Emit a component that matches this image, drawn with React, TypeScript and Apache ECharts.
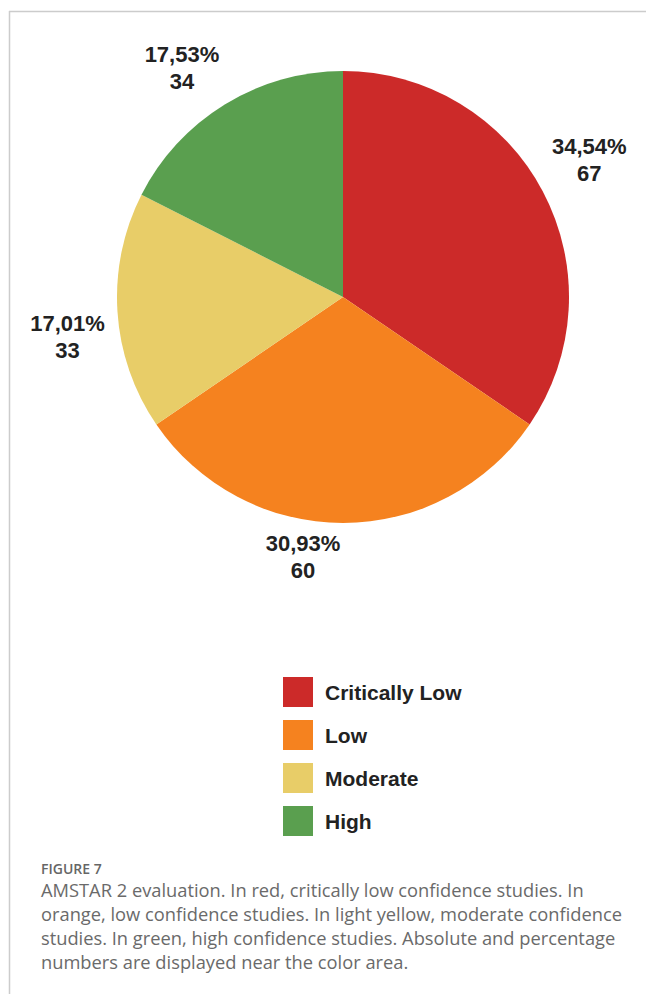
import React, { useEffect, useRef } from "react";
import * as echarts from "echarts";

const categories = ["Critically Low", "Low", "Moderate", "High"];
const counts = [67, 60, 33, 34];
const sliceColors = ["#CC2A29", "#F5821F", "#E8CD68", "#5A9F4F"];
const figureLabel = "FIGURE 7";
const captionLines = [
  "AMSTAR 2 evaluation. In red, critically low confidence studies. In",
  "orange, low confidence studies. In light yellow, moderate confidence",
  "studies. In green, high confidence studies. Absolute and percentage",
  "numbers are displayed near the color area.",
];

const total = counts.reduce((a, b) => a + b, 0);
const fmtPct = (v: number) => ((v / total) * 100).toFixed(2).replace(".", ",") + "%";

// label nudges (styling only)
const labelNudge: [number, number][] = [
  [-4, -5],
  [-40, -23],
  [7, 22],
  [-13, 12],
];

const CX = 343;
const CY = 297;
const R = 226;

export default function App() {
  const ref = useRef<HTMLDivElement>(null);
  useEffect(() => {
    if (!ref.current) return;
    const chart = echarts.init(ref.current, null, { renderer: "svg" });
    const baseFont = "'Liberation Sans', Arial, sans-serif";
    chart.setOption({
      animation: false,
      backgroundColor: "#ffffff",
      legend: {
        orient: "vertical",
        left: 278,
        top: 672,
        icon: "rect",
        itemWidth: 30,
        itemHeight: 30,
        itemGap: 13,
        selectedMode: false,
        data: categories.map((c, i) => ({ name: c, itemStyle: { color: sliceColors[i] } })),
        textStyle: {
          fontFamily: baseFont,
          fontSize: 21,
          fontWeight: "bold",
          color: "#222",
          padding: [0, 0, 0, 7],
        },
      },
      series: [
        {
          type: "pie",
          name: "main",
          center: [CX, CY],
          radius: [0, R],
          startAngle: 90,
          clockwise: true,
          silent: true,
          label: { show: false },
          labelLine: { show: false },
          itemStyle: { borderWidth: 0 },
          data: categories.map((c, i) => ({
            name: c,
            value: counts[i],
            itemStyle: { color: sliceColors[i] },
          })),
        },
        {
          type: "pie",
          name: "labels",
          center: [CX, CY],
          radius: [R + 44, R + 64],
          startAngle: 90,
          clockwise: true,
          silent: true,
          itemStyle: { color: "rgba(0,0,0,0)", borderWidth: 0 },
          labelLine: { show: false },
          label: {
            show: true,
            position: "inside",
            fontFamily: baseFont,
            fontSize: 22,
            fontWeight: "bold",
            color: "#222",
            lineHeight: 27,
            align: "center",
            formatter: (p: any) => `${fmtPct(p.value)}\n${p.value}`,
          },
          data: categories.map((c, i) => ({
            name: c,
            value: counts[i],
            label: { offset: labelNudge[i] },
          })),
        },
      ],
      graphic: [
        {
          type: "line",
          shape: { x1: 9, y1: 11.5, x2: 646, y2: 11.5 },
          style: { stroke: "#cccccc", lineWidth: 1.5 },
        },
        {
          type: "line",
          shape: { x1: 9.5, y1: 11, x2: 9.5, y2: 994 },
          style: { stroke: "#cccccc", lineWidth: 1.5 },
        },
        {
          type: "text",
          left: 41,
          top: 861,
          style: {
            text: figureLabel,
            fontFamily: "'Open Sans', sans-serif",
            fontSize: 14,
            lineHeight: 15,
            fontWeight: 600,
            fill: "#666",
          },
        },
        {
          type: "text",
          left: 41,
          top: 877,
          style: {
            text: captionLines.join("\n"),
            fontFamily: "'Open Sans', sans-serif",
            fontSize: 18.3,
            fontWeight: 400,
            lineHeight: 24,
            fill: "#6a6a6a",
          },
        },
      ],
    });
    return () => chart.dispose();
  }, []);
  return (
    <div
      ref={ref}
      style={{ position: "fixed", left: 0, top: 0, width: 646, height: 994, background: "#fff" }}
    />
  );
}
